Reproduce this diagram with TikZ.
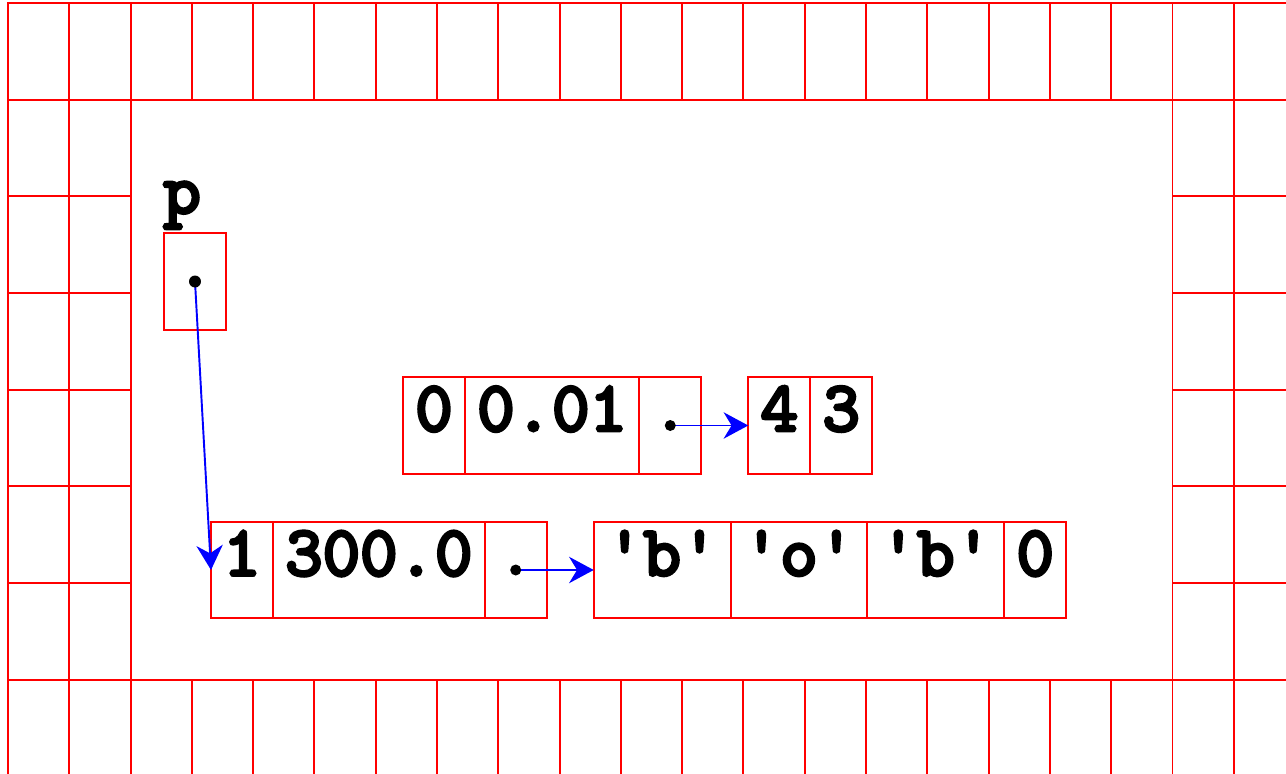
\documentclass[tikz,border=0pt]{standalone}
\usepackage{fontspec}
\usetikzlibrary{positioning,arrows.meta}

\newfontfamily\cellmono{lmmono10-regular.otf}[FakeBold=4.5]
\newcommand{\cellfont}{\fontsize{40.6pt}{48pt}\selectfont\cellmono}
\newcommand{\chr}[1]{\textquotesingle#1\textquotesingle}

\tikzset{
  cell/.style={draw=red, line width=1.1pt, outer sep=0pt, inner xsep=0.245cm, inner ysep=0pt,
    minimum width=1.24cm, minimum height=1.93cm, text height=0.61em, text depth=0pt, font=\cellfont},
  ptr/.style={draw=blue, line width=1.1pt, -{Stealth[length=14pt,width=15pt,inset=4.5pt]}},
  dot/.style={fill=black},
}

\begin{document}
\begin{tikzpicture}[x=0.02cm,y=-0.02cm]
\useasboundingbox (0,0) rectangle (1286,774);
\clip (0,0) rectangle (1286,774);

%memory frame around the heap
\begin{scope}[shift={(8,3)}, x=1.226cm, y=-1.934cm, red, line width=1.1pt]
\foreach \i in {0,...,20} {\draw (\i,0) rectangle ++(1,1); \draw (\i,7) rectangle ++(1,1);}
\foreach \j in {1,...,6} {\draw (0,\j) rectangle ++(1,1); \draw (1,\j) rectangle ++(1,1);
  \draw (19,\j) rectangle ++(1,1); \draw (20,\j) rectangle ++(1,1);}
\end{scope}

%variable p
\node [cell] (pp) at (195,281.5) {};
\node [anchor=base west, inner sep=0pt, font=\cellfont] (plbl) at (163,213) {p};

%first record
\node [cell, anchor=west] (azero) at (403,425.5) {0};
\node [cell, right=0pt of azero] (aval) {0.01};
\node [cell, right=0pt of aval] (aptr) {};
\node [cell, right=0.94cm of aptr] (afour) {4};
\node [cell, right=0pt of afour] (athree) {3};

%second record
\node [cell, anchor=west] (bone) at (211,570) {1};
\node [cell, right=0pt of bone] (bval) {300.0};
\node [cell, right=0pt of bval] (bptr) {};
\node [cell, right=0.94cm of bptr] (bchb) {\chr{b}};
\node [cell, right=0pt of bchb] (bcho) {\chr{o}};
\node [cell, right=0pt of bcho] (bchbb) {\chr{b}};
\node [cell, right=0pt of bchbb] (bnul) {0};

%pointers
\draw [ptr] (pp.center) -- (bone.west);
\draw [ptr] (aptr.center) -- (afour.west);
\draw [ptr] (bptr.center) -- (bchb.west);
\fill [dot] (pp.center) circle [radius=0.12cm];
\fill [dot] (aptr.center) circle [radius=0.11cm];
\fill [dot] (bptr.center) circle [radius=0.11cm];

\end{tikzpicture}
\end{document}
